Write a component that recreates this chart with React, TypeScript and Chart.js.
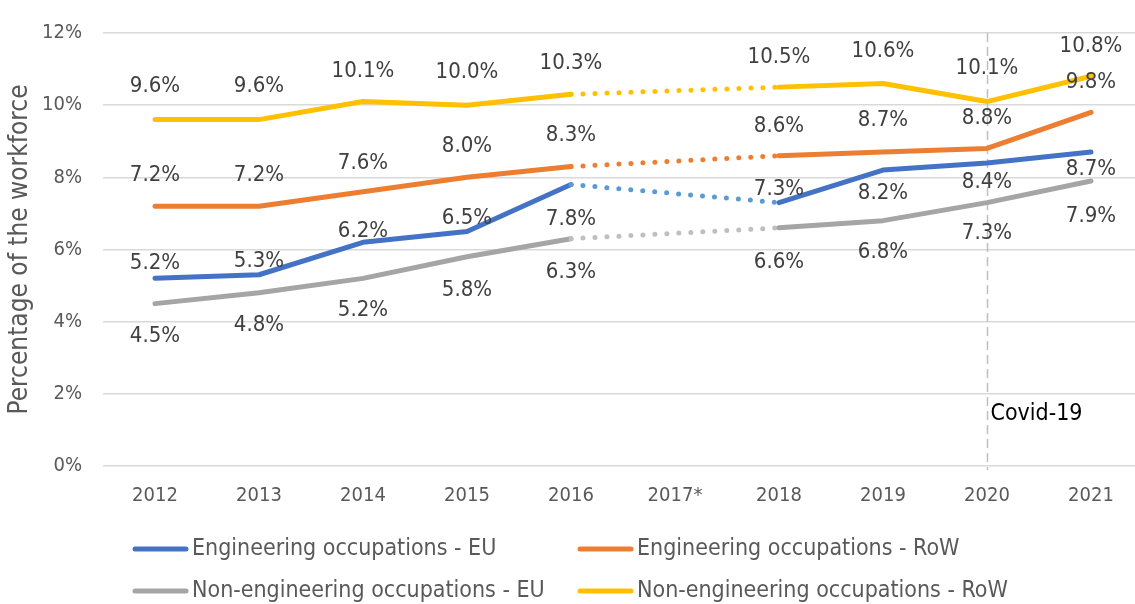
import React, { useEffect, useRef } from 'react';
import { Chart, registerables } from 'chart.js';

Chart.register(...registerables);

// ---------- data ----------
const categories = ['2012', '2013', '2014', '2015', '2016', '2017*', '2018', '2019', '2020', '2021'];
const engineeringEU = [5.2, 5.3, 6.2, 6.5, 7.8, null, 7.3, 8.2, 8.4, 8.7];
const engineeringRoW = [7.2, 7.2, 7.6, 8.0, 8.3, null, 8.6, 8.7, 8.8, 9.8];
const nonEngineeringEU = [4.5, 4.8, 5.2, 5.8, 6.3, null, 6.6, 6.8, 7.3, 7.9];
const nonEngineeringRoW = [9.6, 9.6, 10.1, 10.0, 10.3, null, 10.5, 10.6, 10.1, 10.8];
const seriesNames = [
  'Engineering occupations - EU',
  'Engineering occupations - RoW',
  'Non-engineering occupations - EU',
  'Non-engineering occupations - RoW',
];
const yMin = 0;
const yMax = 12;
const yStep = 2;
const yAxisTitle = 'Percentage of the workforce';
const covidCategory = '2020';
const covidLabel = 'Covid-19';

// ---------- style ----------
const FONT = "'DejaVu Sans Condensed', 'DejaVu Sans', sans-serif";
const CANVAS_W = 1146;
const CANVAS_H = 604;
const PLOT_LEFT = 103;
const PLOT_TOP = 21;
const PLOT_RIGHT = 1143;
const PLOT_BOTTOM = 466;
const X_AXIS_H = 40;
const TICK_SIZE = 20;
const LABEL_SIZE = 22;
const LEGEND_SIZE = 23;
const TITLE_SIZE = 26;
const LINE_W = 5;
const TEXT_GRAY = '#595959';
const LABEL_COLOR = '#404040';

const styles = [
  { color: '#4472C4', dotted: '#5B9BD5', offsets: [-15, -13, -11, -13, 35, 0, -13, 23, 19, 17] },
  { color: '#ED7D31', dotted: '#ED7D31', offsets: [-31, -31, -28, -31, -31, 0, -29, -32, -30, -30] },
  { color: '#A5A5A5', dotted: '#BFBFBF', offsets: [33, 32, 32, 34, 34, 0, 34, 32, 31, 35] },
  { color: '#FFC000', dotted: '#FFC000', offsets: [-33, -33, -30, -33, -31, 0, -30, -32, -33, -30] },
];
const seriesData = [engineeringEU, engineeringRoW, nonEngineeringEU, nonEngineeringRoW];

const legendSlots = [
  { x: 133, y: 549 },
  { x: 578, y: 549 },
  { x: 133, y: 591 },
  { x: 578, y: 591 },
];

const covidPlugin = {
  id: 'covidLine',
  beforeDatasetsDraw(chart: any) {
    const { ctx, chartArea } = chart;
    const xs = chart.scales.x;
    const x = Math.round(xs.getPixelForValue(categories.indexOf(covidCategory))) + 0.5;
    ctx.save();
    ctx.strokeStyle = '#BFBFBF';
    ctx.lineWidth = 1.5;
    ctx.setLineDash([9, 5]);
    ctx.beginPath();
    ctx.moveTo(x, chartArea.top);
    ctx.lineTo(x, chartArea.bottom + 4);
    ctx.stroke();
    ctx.setLineDash([]);
    ctx.fillStyle = '#000000';
    ctx.font = `${LEGEND_SIZE}px ${FONT}`;
    ctx.textAlign = 'left';
    ctx.textBaseline = 'middle';
    ctx.fillText(covidLabel, x + 3, chart.scales.y.getPixelForValue(1.45));
    ctx.restore();
  },
};

const labelsPlugin = {
  id: 'pointLabels',
  afterDatasetsDraw(chart: any) {
    const { ctx } = chart;
    ctx.save();
    ctx.font = `${LABEL_SIZE}px ${FONT}`;
    ctx.fillStyle = LABEL_COLOR;
    ctx.textAlign = 'center';
    ctx.textBaseline = 'middle';
    chart.data.datasets.forEach((ds: any, i: number) => {
      const meta = chart.getDatasetMeta(i);
      const offs = styles[i].offsets;
      meta.data.forEach((pt: any, j: number) => {
        const v = ds.data[j];
        if (v == null) return;
        ctx.fillText(v.toFixed(1) + '%', pt.x, pt.y + offs[j]);
      });
    });
    ctx.restore();
  },
};

const legendPlugin = {
  id: 'customLegend',
  afterDraw(chart: any) {
    const { ctx } = chart;
    ctx.save();
    ctx.font = `${LEGEND_SIZE}px ${FONT}`;
    ctx.textAlign = 'left';
    ctx.textBaseline = 'middle';
    seriesNames.forEach((name, i) => {
      const s = legendSlots[i];
      ctx.strokeStyle = styles[i].color;
      ctx.lineWidth = LINE_W;
      ctx.lineCap = 'round';
      ctx.beginPath();
      ctx.moveTo(s.x + 2, s.y);
      ctx.lineTo(s.x + 53, s.y);
      ctx.stroke();
      ctx.fillStyle = TEXT_GRAY;
      ctx.fillText(name, s.x + 59, s.y);
    });
    ctx.restore();
  },
};

export default function App() {
  const ref = useRef<HTMLCanvasElement | null>(null);

  useEffect(() => {
    if (!ref.current) return;
    const datasets = seriesNames.map((name, i) => {
      const data = seriesData[i];
      const gap = (c: any) =>
        c.p1DataIndex - c.p0DataIndex > 1 || data[c.p0DataIndex] == null || data[c.p1DataIndex] == null;
      return {
        label: name,
        data,
        borderColor: styles[i].color,
        backgroundColor: styles[i].color,
        borderWidth: LINE_W,
        borderCapStyle: 'round',
        borderJoinStyle: 'round',
        pointRadius: 0,
        pointHoverRadius: 0,
        tension: 0,
        spanGaps: true,
        fill: false,
        segment: {
          borderColor: (c: any) => (gap(c) ? styles[i].dotted : undefined),
          borderDash: (c: any) => (gap(c) ? [0, 12] : undefined),
          borderCapStyle: () => 'round',
          borderJoinStyle: () => 'round',
        },
      };
    });

    const tickHalf = (TICK_SIZE * 1.2) / 2;

    const chart = new Chart(ref.current, {
      type: 'line',
      data: { labels: categories, datasets: datasets as any },
      options: {
        responsive: false,
        animation: false,
        events: [],
        layout: {
          padding: {
            left: 0,
            top: PLOT_TOP - tickHalf,
            right: CANVAS_W - PLOT_RIGHT,
            bottom: CANVAS_H - PLOT_BOTTOM - X_AXIS_H,
          },
        },
        plugins: { legend: { display: false }, tooltip: { enabled: false } },
        scales: {
          x: {
            type: 'category',
            offset: true,
            grid: { display: false, drawTicks: false },
            border: { display: false },
            ticks: {
              color: TEXT_GRAY,
              font: { family: FONT, size: TICK_SIZE },
              padding: 18,
              maxRotation: 0,
              autoSkip: false,
            },
            afterFit: (s: any) => {
              s.height = X_AXIS_H;
            },
          },
          y: {
            min: yMin,
            max: yMax,
            ticks: {
              stepSize: yStep,
              color: TEXT_GRAY,
              font: { family: FONT, size: TICK_SIZE },
              padding: 21,
              callback: (v: any) => v + '%',
            },
            grid: { color: '#D9D9D9', lineWidth: 1.5, drawTicks: false },
            border: { display: false },
            title: {
              display: true,
              text: yAxisTitle,
              color: TEXT_GRAY,
              font: { family: FONT, size: TITLE_SIZE },
              padding: { top: 5, bottom: 0 },
            },
            afterFit: (s: any) => {
              s.width = PLOT_LEFT;
            },
          },
        },
      } as any,
      plugins: [covidPlugin, labelsPlugin, legendPlugin],
    });
    return () => chart.destroy();
  }, []);

  return (
    <div
      style={{
        position: 'fixed',
        left: 0,
        top: 0,
        width: 1135,
        height: 604,
        overflow: 'hidden',
        background: '#ffffff',
      }}
    >
      <canvas ref={ref} width={CANVAS_W} height={CANVAS_H} style={{ display: 'block' }} />
    </div>
  );
}
